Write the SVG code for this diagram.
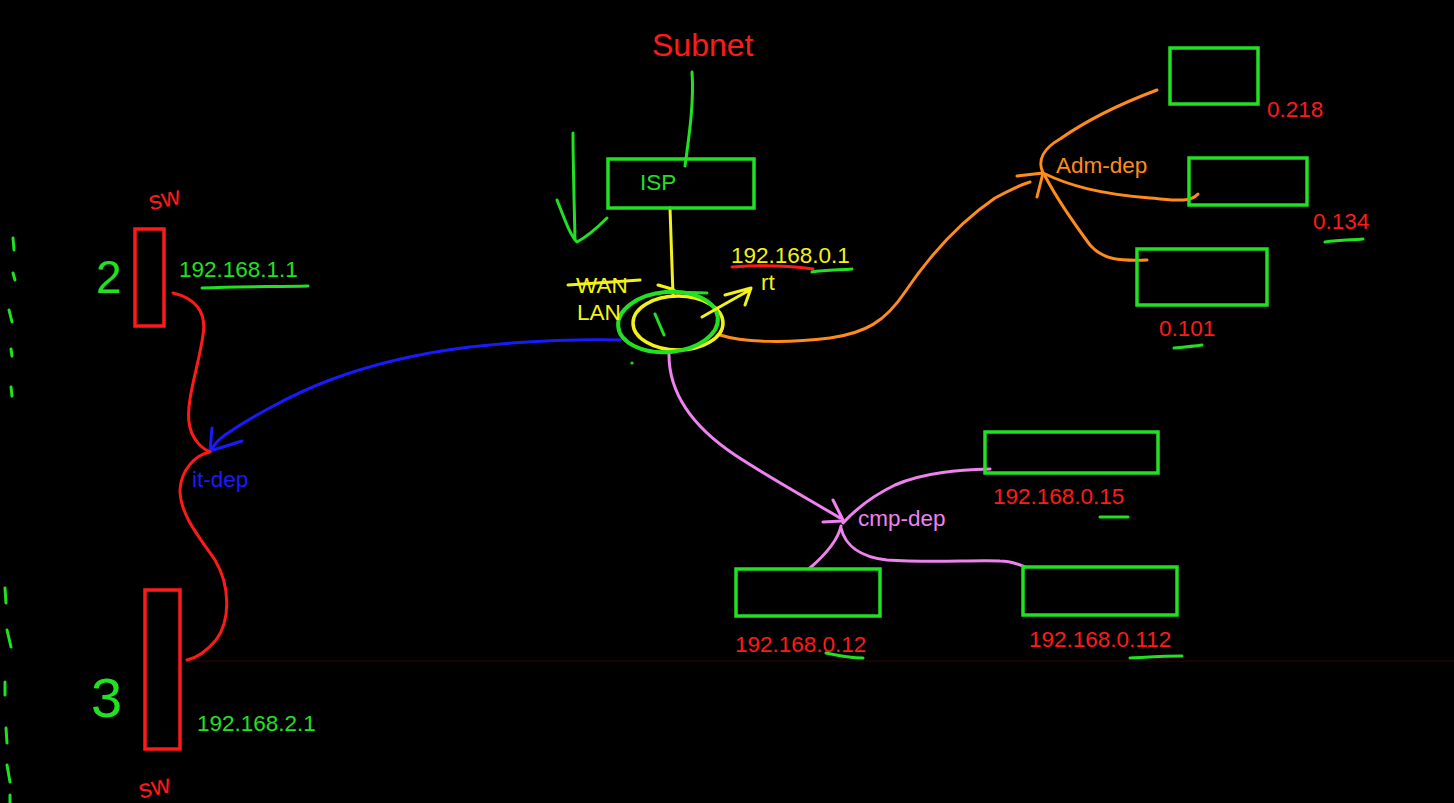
<svg xmlns="http://www.w3.org/2000/svg" width="1454" height="803" viewBox="0 0 1454 803">
<style>
.t{font-family:"Liberation Sans",Arial,sans-serif;font-size:22.5px}
.g{fill:#22e022}.r{fill:#ff1a1a}.y{fill:#f2f21a}.o{fill:#ff8c1a}.p{fill:#ee82ee}.b{fill:#1a1aff}
.box{fill:none;stroke:#22e022;stroke-width:3.5}
.sw{fill:none;stroke:#ff1a1a;stroke-width:3.5}
.ln{fill:none;stroke-width:3;stroke-linecap:round;stroke-linejoin:round}
.hand{font-family:"Liberation Sans",Arial,sans-serif}
</style>
<rect width="1454" height="803" fill="#000"/>
<line x1="188" y1="661" x2="1454" y2="661" stroke="#1c0303" stroke-width="2"/>

<g id="notes">
<text class="t r" x="652" y="56" style="font-size:32px">Subnet</text>
<path class="ln" stroke="#22e022" d="M692,72 C694,100 690,130 685,166"/>
<path class="ln" stroke="#22e022" d="M573,133 C573,160 574,195 575,240 M557,200 C565,220 570,235 577,242 C590,235 600,225 607,218"/>
<g stroke="#22e022" stroke-width="3" stroke-linecap="round">
<line x1="13" y1="238" x2="14" y2="250"/><line x1="13" y1="273" x2="15" y2="280"/><line x1="9" y1="310" x2="12" y2="322"/><line x1="11" y1="349" x2="12" y2="356"/><line x1="11" y1="387" x2="12" y2="396"/>
<line x1="5" y1="588" x2="6" y2="603"/><line x1="7" y1="630" x2="11" y2="647"/><line x1="5" y1="682" x2="5" y2="695"/><line x1="6" y1="728" x2="7" y2="743"/><line x1="7" y1="765" x2="10" y2="782"/><line x1="10" y1="795" x2="10" y2="803"/>
</g>
</g>

<g id="connectors">
<path class="ln" stroke="#f2f21a" d="M670,208 C671,240 672,270 673,295 M658,285 C665,287 670,288 674,290"/>
<path class="ln" stroke="#1a1aff" d="M620,340 C590,339 530,340 470,347 C420,353 370,365 330,380 C290,395 250,418 225,435 C218,440 214,445 212,449 M212,428 L210,451 L242,441"/>
<path class="ln" stroke="#ff1a1a" d="M173,293 C195,298 207,312 203,335 C199,365 186,400 189,422 C191,440 203,449 210,452 C195,455 181,470 180,490 C180,515 200,538 215,560 C230,585 231,620 216,640 C206,652 196,658 187,660"/>
<path class="ln" stroke="#ff8c1a" d="M720,335 C745,343 790,343 830,338 C865,333 885,322 905,292 C930,255 960,222 995,198 C1010,190 1020,185 1030,182 M1017,176 L1043,173 L1037,197"/>
<path class="ln" stroke="#ff8c1a" d="M1043,173 C1037,160 1044,148 1060,139 C1090,118 1125,102 1157,90"/>
<path class="ln" stroke="#ff8c1a" d="M1043,173 C1070,186 1100,194 1150,198 C1175,200 1190,203 1198,194"/>
<path class="ln" stroke="#ff8c1a" d="M1045,176 C1055,195 1070,218 1090,245 C1103,260 1120,261 1147,260"/>
<path class="ln" stroke="#ee82ee" d="M669,352 C668,390 690,425 735,455 C770,478 805,497 840,518 M823,522 L842,521 M833,500 L843,520"/>
<path class="ln" stroke="#ee82ee" d="M843,523 C855,510 870,497 895,485 C925,472 960,470 990,469"/>
<path class="ln" stroke="#ee82ee" d="M841,526 C838,540 825,555 810,568"/>
<path class="ln" stroke="#ee82ee" d="M841,528 C845,545 860,557 887,560 C930,563 970,560 1000,561 C1012,561 1020,565 1025,567"/>
</g>

<g id="isp">
<rect class="box" x="608" y="159" width="146" height="49"/>
<text class="t g" x="640" y="190">ISP</text>
</g>

<g id="router">
<ellipse cx="678" cy="323" rx="45" ry="27" fill="none" stroke="#f2f21a" stroke-width="3.5"/>
<ellipse cx="668" cy="322" rx="50" ry="30" fill="none" stroke="#22e022" stroke-width="4" transform="rotate(-5 668 322)"/>
<path class="ln" stroke="#22e022" d="M668,292 L707,293"/>
<path class="ln" stroke="#22e022" d="M655,314 L664,335"/>
<circle cx="632" cy="363" r="1.6" fill="#22e022"/>
<path class="ln" stroke="#f2f21a" d="M702,317 C718,308 735,298 750,290 M725,295 L751,288 L745,305"/>
<text class="t y" x="576" y="293">WAN</text>
<path class="ln" stroke="#f2f21a" d="M568,285 L640,280"/>
<text class="t y" x="577" y="320">LAN</text>
<text class="t y" x="731" y="263">192.168.0.1</text>
<path class="ln" stroke="#ff1a1a" d="M732,267 C760,265 790,266 813,269"/>
<path class="ln" stroke="#22e022" d="M812,272 C825,270 840,270 852,269"/>
<text class="t y" x="761" y="290">rt</text>
</g>

<g id="sw1">
<rect class="sw" x="135" y="229" width="29" height="97"/>
<text class="hand r" x="148" y="207" font-size="26" transform="rotate(-12 165 197)">sw</text>
<text class="hand g" x="96" y="293" font-size="46">2</text>
<text class="t g" x="179" y="277">192.168.1.1</text>
<path class="ln" stroke="#22e022" d="M202,288 C240,286 275,287 308,286"/>
</g>

<g id="sw2">
<rect class="sw" x="145" y="590" width="35" height="159"/>
<text class="hand r" x="138" y="795" font-size="26" transform="rotate(-12 156 785)">sw</text>
<text class="hand g" x="91" y="717" font-size="56">3</text>
<text class="t g" x="197" y="731">192.168.2.1</text>
</g>

<g id="it-dep">
<text class="t b" x="192" y="487">it-dep</text>
</g>

<g id="adm-dep">
<text class="t o" x="1056" y="173">Adm-dep</text>
</g>
<g id="adm-218">
<rect class="box" x="1170" y="48" width="88" height="56"/>
<text class="t r" x="1267" y="117">0.218</text>
</g>
<g id="adm-134">
<rect class="box" x="1189" y="158" width="118" height="47"/>
<text class="t r" x="1313" y="229">0.134</text>
<path class="ln" stroke="#22e022" d="M1325,242 C1340,240 1352,240 1363,239"/>
</g>
<g id="adm-101">
<rect class="box" x="1137" y="249" width="130" height="56"/>
<text class="t r" x="1159" y="336">0.101</text>
<path class="ln" stroke="#22e022" d="M1174,348 C1185,347 1195,346 1202,345"/>
</g>

<g id="cmp-dep">
<text class="t p" x="858" y="526">cmp-dep</text>
</g>
<g id="cmp-15">
<rect class="box" x="985" y="432" width="173" height="41"/>
<text class="t r" x="993" y="504">192.168.0.15</text>
<path class="ln" stroke="#22e022" d="M1100,517 L1128,517"/>
</g>
<g id="cmp-12">
<rect class="box" x="736" y="569" width="144" height="47"/>
<text class="t r" x="735" y="652">192.168.0.12</text>
<path class="ln" stroke="#22e022" d="M826,653 C840,656 852,658 863,658"/>
</g>
<g id="cmp-112">
<rect class="box" x="1023" y="567" width="154" height="48"/>
<text class="t r" x="1029" y="647">192.168.0.112</text>
<path class="ln" stroke="#22e022" d="M1130,658 C1150,657 1165,656 1182,656"/>
</g>
</svg>
